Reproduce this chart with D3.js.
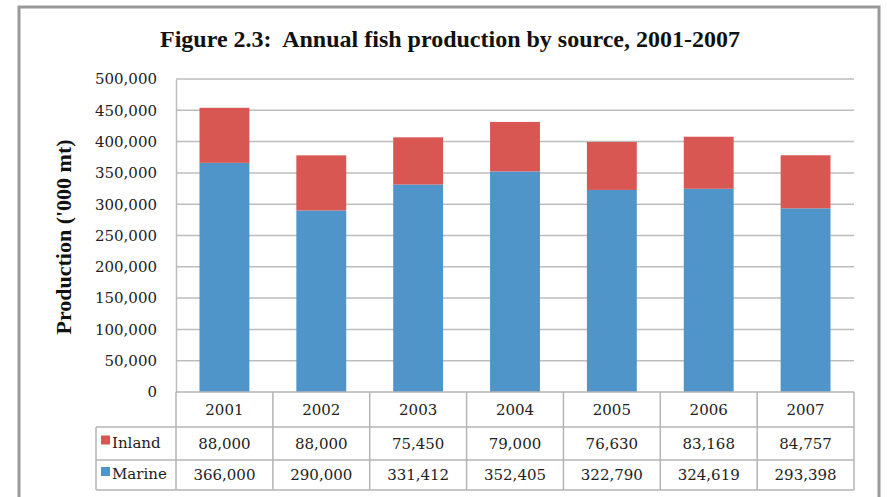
<!DOCTYPE html>
<html><head><meta charset="utf-8">
<script src="https://cdn.jsdelivr.net/npm/d3@7"></script>
<style>html,body{margin:0;padding:0;background:#fff;}svg{display:block;}</style>
</head><body>
<svg id="chart" width="887" height="497"></svg>
<script>
const years = ["2001","2002","2003","2004","2005","2006","2007"];
const marine = [366000, 290000, 331412, 352405, 322790, 324619, 293398];
const inland = [88000, 88000, 75450, 79000, 76630, 83168, 84757];
const yTicks = [0,50000,100000,150000,200000,250000,300000,350000,400000,450000,500000];
const seriesNames = ["Inland","Marine"];
const seriesColors = {Inland:"#D95752", Marine:"#4F95CA"};

const svg = d3.select("#chart");
const W = 887, H = 497;
const plot = {left:176, right:854, top:79, bottom:392};
const smallFont = "'DejaVu Serif', serif";

// outer frame
svg.append("rect").attr("x",19).attr("y",7).attr("width",860).attr("height",H+10)
  .attr("fill","#fff").attr("stroke","#9a9a9a").attr("stroke-width",3);

// title
svg.append("text").attr("x",450).attr("y",47).attr("text-anchor","middle")
  .style("white-space","pre")
  .attr("font-family","'Liberation Serif', serif").attr("font-weight","bold").attr("font-size",24)
  .attr("fill","#111").attr("textLength",580).attr("lengthAdjust","spacingAndGlyphs")
  .text("Figure 2.3:  Annual fish production by source, 2001-2007");

const x = d3.scaleBand().domain(years).range([plot.left, plot.right]).paddingInner(0.485).paddingOuter(0.2425);
const xCell = d3.scaleBand().domain(years).range([plot.left, plot.right]);
const y = d3.scaleLinear().domain([0,500000]).range([plot.bottom, plot.top]);

// gridlines
svg.append("g").selectAll("line").data(yTicks.filter(d=>d>0)).join("line")
  .attr("x1",plot.left).attr("x2",plot.right).attr("y1",d=>y(d)).attr("y2",d=>y(d))
  .attr("stroke","#bdbdbd").attr("stroke-width",1.5);

// y axis
const yAxis = d3.axisLeft(y).tickValues(yTicks).tickFormat(d3.format(",")).tickSize(0).tickPadding(19);
const gy = svg.append("g").attr("transform",`translate(${plot.left},0)`).call(yAxis);
gy.select(".domain").attr("stroke","#bdbdbd").attr("stroke-width",1.5);
gy.selectAll("text").attr("font-family",smallFont).attr("font-size",15).attr("fill","#222");

// y label
svg.append("text").attr("transform","translate(71,237) rotate(-90)").attr("text-anchor","middle")
  .attr("font-family","'Liberation Serif', serif").attr("font-weight","bold").attr("font-size",22)
  .attr("fill","#111").text("Production ('000 mt)");

// stacked bars
const data = years.map((yr,i)=>({year:yr, Marine:marine[i], Inland:inland[i]}));
const stack = d3.stack().keys(["Marine","Inland"])(data);
svg.append("g").selectAll("g").data(stack).join("g").attr("fill",s=>seriesColors[s.key])
  .selectAll("rect").data(s=>s).join("rect")
  .attr("x",d=>x(d.data.year)).attr("width",x.bandwidth())
  .attr("y",d=>y(d[1])).attr("height",d=>y(d[0])-y(d[1]));

// data table
const rowTop = [392, 427, 460, 490];
const tableLeft = 96;
const tg = svg.append("g").attr("stroke","#b4b4b4").attr("stroke-width",1.5).attr("fill","none");
tg.append("line").attr("x1",plot.left).attr("x2",plot.right).attr("y1",rowTop[0]).attr("y2",rowTop[0]);
[1,2,3].forEach(i=>{
  tg.append("line").attr("x1",tableLeft).attr("x2",plot.right).attr("y1",rowTop[i]).attr("y2",rowTop[i]);
});
const vx = years.map(yr=>xCell(yr)).concat([plot.right]);
vx.forEach(v=>{
  tg.append("line").attr("x1",v).attr("x2",v).attr("y1",rowTop[0]).attr("y2",rowTop[3]);
});
tg.append("line").attr("x1",tableLeft).attr("x2",tableLeft).attr("y1",rowTop[1]).attr("y2",rowTop[3]);

svg.append("g").selectAll("text").data(years).join("text")
  .attr("x",d=>xCell(d)+xCell.bandwidth()/2).attr("y",(rowTop[0]+rowTop[1])/2+5)
  .attr("text-anchor","middle").attr("font-family",smallFont).attr("font-size",15).attr("fill","#222")
  .text(d=>d);

const rows = [{name:"Inland", vals:inland},{name:"Marine", vals:marine}];
rows.forEach((r,ri)=>{
  const cy = (rowTop[ri+1]+rowTop[ri+2])/2;
  svg.append("rect").attr("x",tableLeft+5).attr("y",cy-8).attr("width",9).attr("height",9)
    .attr("fill",seriesColors[r.name]);
  svg.append("text").attr("x",tableLeft+16).attr("y",cy+4).attr("font-family",smallFont)
    .attr("font-size",15).attr("fill","#222").text(r.name);
  svg.append("g").selectAll("text").data(r.vals).join("text")
    .attr("x",(d,i)=>xCell(years[i])+xCell.bandwidth()/2).attr("y",cy+5)
    .attr("text-anchor","middle").attr("font-family",smallFont).attr("font-size",15).attr("fill","#222")
    .text(d=>d3.format(",")(d));
});
</script>
</body></html>
